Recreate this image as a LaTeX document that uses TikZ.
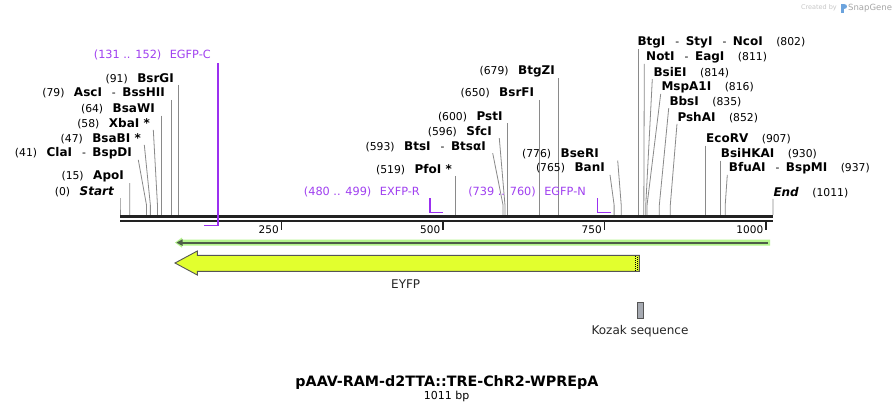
\documentclass[tikz,border=0pt]{standalone}
\usepackage{fontspec}
\setmainfont{DejaVu Sans}
\definecolor{sitegray}{HTML}{8A8A8A}
\definecolor{axisblack}{HTML}{222222}
\definecolor{primerpurple}{HTML}{9B30F0}
\definecolor{primertext}{HTML}{A040F0}
\definecolor{eyfpfill}{HTML}{E2FF2E}
\definecolor{bandlight}{HTML}{B4F58C}
\definecolor{banddark}{HTML}{4E5E48}
\definecolor{kozakfill}{HTML}{A6AAB2}
\definecolor{featedge}{HTML}{555555}
\newcommand\myenz[1]{{\fontsize{12}{14}\selectfont\bfseries #1}}
\newcommand\mydash{\hspace{10pt}-\hspace{6.5pt}}
\newcommand\mygap{\hspace{9.5pt}}
\newcommand\rgap{\hspace{13.5pt}}
\newcommand\siteL[6]{%
  \node[lbl,anchor=east] (#1) at (#3,#4) {#5};
  \coordinate (#1t) at ({#6},{#4+6.5});
  \coordinate (#1b) at ({120+0.6459*#2},205);
  \coordinate (#1a) at ({120+0.6459*#2},214.8);
  \draw[siteline] (#1t) -- (#1b) -- (#1a);}
\newcommand\siteR[6]{%
  \node[lbl,anchor=west] (#1) at (#3,#4) {#5};
  \coordinate (#1t) at ({#6},{#4+6.5});
  \coordinate (#1b) at ({120+0.6459*#2},205);
  \coordinate (#1a) at ({120+0.6459*#2},214.8);
  \draw[siteline] (#1t) -- (#1b) -- (#1a);}
\begin{document}
\begin{tikzpicture}[x=1pt,y=-1pt,
  lbl/.style={inner sep=0pt,font=\fontsize{10.8}{13}\selectfont,text=black},
  plbl/.style={inner sep=0pt,font=\fontsize{11.3}{13}\selectfont,text=primertext},
  siteline/.style={draw=sitegray,line width=0.8pt},
  primermark/.style={draw=primerpurple,line width=1.6pt},
  axisline/.style={draw=axisblack,line width=2.6pt},
  tickmark/.style={draw=axisblack,line width=1.8pt},
  ticklbl/.style={inner sep=0pt,anchor=east,font=\fontsize{10.5}{12}\selectfont},
  featlbl/.style={inner sep=0pt,font=\fontsize{12}{14}\selectfont,text=black!85}]
\fill[white] (0,0) rectangle (894,413);
\useasboundingbox (0,0) rectangle (894,413);

% backbone
\coordinate (ax1l) at (120,216.2);
\coordinate (ax1r) at (773,216.2);
\coordinate (ax2l) at (120,220.8);
\coordinate (ax2r) at (773,220.8);
\draw[axisline] (ax1l) -- (ax1r);
\draw[axisline] (ax2l) -- (ax2r);

% ticks
\foreach \p/\t in {250/t250,500/t500,750/t750,1000/t1000}{
  \coordinate (\t a) at ({120+0.6459*\p},221.5);
  \coordinate (\t b) at ({120+0.6459*\p},230);
  \draw[tickmark] (\t a) -- (\t b);
  \node[ticklbl] (\t l) at ({120+0.6459*\p-2.5},229.5) {\p};
}

% left cluster
\siteL{sStart}{0}{114}{191.7}{(0)\mygap\myenz{\itshape Start}}{120}
\siteL{sApoI}{15}{124}{176.7}{(15)\mygap\myenz{ApoI}}{129.7}
\siteL{sClaI}{41}{132}{153.3}{(41)\mygap\myenz{ClaI}\mydash\myenz{BspDI}}{138.3}
\siteL{sBsaBI}{47}{141}{138.3}{(47)\mygap\myenz{BsaBI *}}{144.3}
\siteL{sXbaI}{58}{150}{123.3}{(58)\mygap\myenz{XbaI *}}{153.3}
\siteL{sBsaWI}{64}{155}{109}{(64)\mygap\myenz{BsaWI}}{120+0.6459*64}
\siteL{sAscI}{79}{165}{93.3}{(79)\mygap\myenz{AscI}\mydash\myenz{BssHII}}{120+0.6459*79}
\siteL{sBsrGI}{91}{174}{78.3}{(91)\mygap\myenz{BsrGI}}{120+0.6459*91}

% middle cluster
\siteL{sPfoI}{519}{452}{169.3}{(519)\mygap\myenz{PfoI *}}{120+0.6459*519}
\siteL{sBtsI}{593}{486}{146.7}{(593)\mygap\myenz{BtsI}\mydash\myenz{BtsαI}}{492.7}
\siteL{sSfcI}{596}{492}{131.7}{(596)\mygap\myenz{SfcI}}{499.3}
\siteL{sPstI}{600}{502.7}{116.7}{(600)\mygap\myenz{PstI}}{120+0.6459*600}
\siteL{sBsrFI}{650}{534.3}{93.3}{(650)\mygap\myenz{BsrFI}}{120+0.6459*650}
\siteL{sBtgZI}{679}{555}{71.7}{(679)\mygap\myenz{BtgZI}}{120+0.6459*679}
\siteL{sBseRI}{776}{599}{154}{(776)\mygap\myenz{BseRI}}{617.7}
\siteL{sBanI}{765}{605}{168.3}{(765)\mygap\myenz{BanI}}{610}

% right cluster
\siteR{sBtgI}{802}{637.3}{42.7}{\myenz{BtgI}\mydash\myenz{StyI}\mydash\myenz{NcoI}\rgap(802)}{120+0.6459*802}
\siteR{sNotI}{811}{646}{57.3}{\myenz{NotI}\mydash\myenz{EagI}\rgap(811)}{644.3}
\siteR{sBsiEI}{814}{653.3}{72.7}{\myenz{BsiEI}\rgap(814)}{652.3}
\siteR{sMspA1I}{816}{661.3}{87.3}{\myenz{MspA1I}\rgap(816)}{660.7}
\siteR{sBbsI}{835}{669.3}{101.7}{\myenz{BbsI}\rgap(835)}{668.7}
\siteR{sPshAI}{852}{677.3}{117.3}{\myenz{PshAI}\rgap(852)}{677}
\siteR{sEcoRV}{907}{706}{139}{\myenz{EcoRV}\rgap(907)}{120+0.6459*907}
\siteR{sBsiHKAI}{930}{720.7}{154}{\myenz{BsiHKAI}\rgap(930)}{120+0.6459*930}
\siteR{sBfuAI}{937}{728.7}{168.3}{\myenz{BfuAI}\mydash\myenz{BspMI}\rgap(937)}{727.3}
\siteR{sEnd}{1011}{773.3}{192.3}{\myenz{\itshape End}\rgap(1011)}{773}

% primers
\node[plbl,anchor=east] (pEGFPC) at (211,55) {(131 .. 152)\hspace{8.5pt}EGFP-C};
\coordinate (pEGFPCt) at (218.2,63);
\coordinate (pEGFPCr) at (218.2,225.5);
\coordinate (pEGFPCl) at (204.2,225.5);
\draw[primermark] (pEGFPCt) -- (pEGFPCr) -- (pEGFPCl);

\node[plbl,anchor=east] (pEXFPR) at (420,191.7) {(480 .. 499)\hspace{8.5pt}EXFP-R};
\coordinate (pEXFPRt) at (430,198);
\coordinate (pEXFPRb) at (430,212.3);
\coordinate (pEXFPRr) at (442.5,212.3);
\draw[primermark] (pEXFPRt) -- (pEXFPRb) -- (pEXFPRr);

\node[plbl,anchor=east] (pEGFPN) at (586,191.7) {(739 .. 760)\hspace{8.5pt}EGFP-N};
\coordinate (pEGFPNt) at (597.3,198);
\coordinate (pEGFPNb) at (597.3,212.3);
\coordinate (pEGFPNr) at (611,212.3);
\draw[primermark] (pEGFPNt) -- (pEGFPNb) -- (pEGFPNr);

% translation band
\fill[bandlight] (770,239.5) -- (182,239.5) -- (182,237.5) -- (175,242.6) -- (182,247.7) -- (182,245.7) -- (770,245.7) -- cycle;
\coordinate (bandl) at (182,242.6);
\coordinate (bandr) at (768,242.6);
\draw[draw=banddark,line width=2pt] (bandl) -- (bandr);
\fill[banddark] (176.5,242.6) -- (182.5,239.3) -- (182.5,245.9) -- cycle;

% EYFP arrow
\draw[fill=eyfpfill,draw=featedge,line width=0.9pt]
  (639.3,255.3) -- (197.3,255.3) -- (197.3,251) -- (175,263) -- (197.3,275) -- (197.3,271.3) -- (639.3,271.3) -- cycle;
\draw[black,line width=0.9pt,dash pattern=on 1pt off 1pt] (635.6,256) -- (635.6,271);
\draw[black,line width=0.9pt,dash pattern=on 1pt off 1pt,dash phase=1pt] (637.6,256) -- (637.6,271);
\node[featlbl] (lEYFP) at (405.7,284.3) {EYFP};

% Kozak
\draw[fill=kozakfill,draw=featedge,line width=0.8pt] (637.3,302.3) rectangle (643.3,318.3);
\node[featlbl] (lKozak) at (640,331) {Kozak sequence};

% title
\node[inner sep=0pt,font=\fontsize{14.3}{17}\selectfont\bfseries] (title) at (447,382.3) {pAAV-RAM-d2TTA::TRE-ChR2-WPREpA};
\node[inner sep=0pt,font=\fontsize{11}{13}\selectfont] (bp) at (446.7,396.7) {1011 bp};

% watermark
\node[inner sep=0pt,anchor=east,font=\fontsize{6.5}{8}\selectfont,text=black!22] (wm1) at (837,8) {Created by};
\fill[cyan!60!blue!60] (841,3.5) rectangle (844,12.5);
\fill[cyan!60!blue!60] (844,3.5) .. controls (848,3.5) and (848,8.5) .. (844,8.5) -- cycle;
\node[inner sep=0pt,anchor=west,font=\fontsize{8.5}{10}\selectfont,text=black!35] (wm2) at (848,8) {SnapGene};
\end{tikzpicture}
\end{document}
